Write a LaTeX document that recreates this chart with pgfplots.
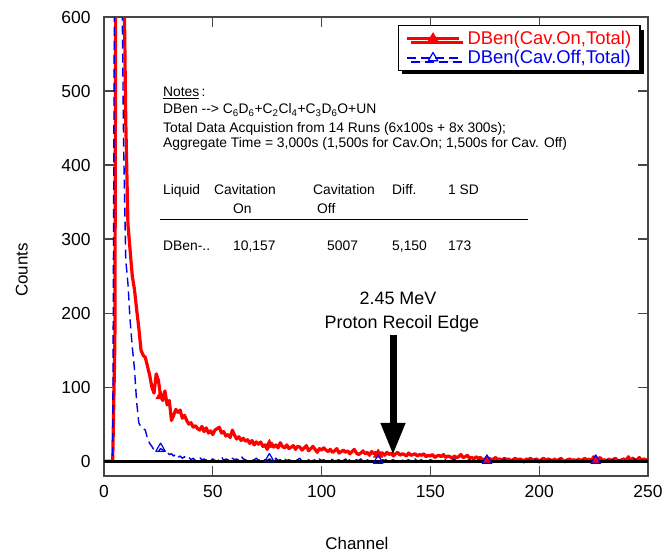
\documentclass[border=0pt]{standalone}
\usepackage{pgfplots}
\pgfplotsset{compat=1.18}
\usepackage{pgfplotstable}
\usepackage{fontspec}
\setmainfont{Liberation Sans}
\usetikzlibrary{arrows.meta,shadows}
\definecolor{framegray}{RGB}{70,70,70}
\definecolor{onred}{RGB}{255,0,0}
\definecolor{offblue}{RGB}{0,0,235}

\pgfplotstableread[row sep=\\]{
ch on off\\
0 0 0\\ 1 0 0\\ 2 0 0\\ 3 0 0\\ 4 0 0\\ 5 160 800\\ 6 1400 1300\\ 7 1600 1100\\ 8 1100 720\\ 9 700 430\\
10 460 272\\ 11 320 240\\ 12 285 190\\ 13 250 154\\ 14 232 125\\ 15 205 80\\ 16 180 52\\ 17 150 46\\ 18 143 44\\ 19 140 42\\
20 128 30\\ 21 116 24\\ 22 100 20\\ 23 92 15\\ 24 118 14\\ 25 109 13\\ 26 88 17\\ 27 82 15\\ 28 95 11\\ 29 76 12\\
30 82 9\\ 31 55 10\\ 32 62 7\\ 33 70 9\\ 34 66 5\\ 35 69 7\\ 36 58 4\\ 37 62 6\\ 38 55 3\\ 39 50 5\\
40 52 2\\ 41 46 4\\ 42 48 1\\ 43 44 3\\ 44 42 5\\ 45 47 2\\ 46 40 3\\ 47 45 1\\ 48 38 4\\ 49 41 2\\
50 36 3\\ 51 42 1\\ 52 44 0\\ 53 46 2\\ 54 38 6\\ 55 40 1\\ 56 34 3\\ 57 36 2\\ 58 32 0\\ 59 42 4\\
60 35 2\\ 61 30 3\\ 62 33 1\\ 63 28 7\\ 64 31 3\\ 65 27 2\\ 66 29 0\\ 67 24 3\\ 68 28 1\\ 69 22 2\\
70 26 4\\ 71 23 1\\ 72 26 3\\ 73 20 0\\ 74 22 2\\ 75 16 1\\ 76 22 3\\ 77 24 2\\ 78 19 0\\ 79 22 4\\
80 18 1\\ 81 25 2\\ 82 20 -1\\ 83 18 3\\ 84 22 1\\ 85 17 2\\ 86 19 0\\ 87 21 3\\ 88 16 1\\ 89 20 2\\
90 19 4\\ 91 15 0\\ 92 18 1\\ 93 21 3\\ 94 14 2\\ 95 17 -1\\ 96 20 1\\ 97 16 2\\ 98 12 0\\ 99 17 3\\
100 15 1\\ 101 18 2\\ 102 15 0\\ 103 13 1\\ 104 16 3\\ 105 12 2\\ 106 14 0\\ 107 17 1\\ 108 11 2\\ 109 13 -1\\
110 15 1\\ 111 12 3\\ 112 14 0\\ 113 10 2\\ 114 13 1\\ 115 16 0\\ 116 11 2\\ 117 9 1\\ 118 11 3\\ 119 14 0\\
120 10 1\\ 121 12 2\\ 122 8 0\\ 123 13 1\\ 124 10 -1\\ 125 12 2\\ 126 9 1\\ 127 11 0\\ 128 11 2\\ 129 8 1\\
130 12 3\\ 131 9 0\\ 132 11 1\\ 133 7 2\\ 134 10 0\\ 135 12 1\\ 136 8 -1\\ 137 10 2\\ 138 9 0\\ 139 7 1\\
140 11 2\\ 141 8 0\\ 142 9 1\\ 143 10 3\\ 144 7 0\\ 145 9 1\\ 146 8 2\\ 147 10 -1\\ 148 6 1\\ 149 8 0\\
150 7 2\\ 151 9 1\\ 152 5 0\\ 153 7 2\\ 154 8 -1\\ 155 6 1\\ 156 9 0\\ 157 5 2\\ 158 7 1\\ 159 6 0\\
160 4 1\\ 161 7 3\\ 162 5 0\\ 163 6 1\\ 164 9 2\\ 165 5 0\\ 166 6 -1\\ 167 8 1\\ 168 4 2\\ 169 5 0\\
170 3 1\\ 171 6 0\\ 172 4 2\\ 173 5 1\\ 174 2 -1\\ 175 3 0\\ 176 1 1\\ 177 4 2\\ 178 2 0\\ 179 3 1\\
180 5 -1\\ 181 2 2\\ 182 3 0\\ 183 1 1\\ 184 4 3\\ 185 2 0\\ 186 3 1\\ 187 0 -1\\ 188 2 2\\ 189 4 0\\
190 1 1\\ 191 3 2\\ 192 2 0\\ 193 -1 1\\ 194 3 -1\\ 195 2 2\\ 196 4 0\\ 197 1 1\\ 198 2 3\\ 199 3 0\\
200 -1 1\\ 201 2 2\\ 202 4 -1\\ 203 1 1\\ 204 3 0\\ 205 2 2\\ 206 0 1\\ 207 3 0\\ 208 1 -1\\ 209 2 2\\
210 4 1\\ 211 1 0\\ 212 -1 1\\ 213 2 3\\ 214 3 0\\ 215 1 1\\ 216 2 -1\\ 217 0 2\\ 218 3 0\\ 219 1 1\\
220 2 2\\ 221 4 0\\ 222 1 1\\ 223 3 -1\\ 224 0 2\\ 225 6 0\\ 226 1 1\\ 227 3 2\\ 228 5 0\\ 229 1 1\\
230 2 -1\\ 231 0 2\\ 232 3 0\\ 233 1 1\\ 234 2 3\\ 235 4 0\\ 236 1 1\\ 237 0 2\\ 238 2 -1\\ 239 3 1\\
240 1 0\\ 241 6 2\\ 242 0 1\\ 243 4 0\\ 244 1 3\\ 245 2 1\\ 246 5 0\\ 247 1 2\\ 248 3 1\\ 249 2 0\\
250 1 2\\
}\spectrum

\begin{document}
\begin{tikzpicture}
\useasboundingbox (-104bp,-78bp) rectangle (560bp,476bp);
\begin{axis}[
  at={(0,0)}, anchor=south west,
  scale only axis, width=544bp, height=459bp,
  xmin=0, xmax=250, ymin=-20, ymax=600,
  xtick={0,50,...,250}, ytick={0,100,...,600},
  tick align=inside, major tick length=10bp,
  axis line style={framegray, line width=1.6bp},
  every tick/.style={framegray, line width=1.2bp},
  /pgf/number format/assume math mode=true,
  ticklabel style={font=\fontsize{17.5}{20}\selectfont, text=black},
  yticklabel style={xshift=-10bp},
  xticklabel style={yshift=-6bp},
  xlabel={Channel}, ylabel={Counts},
  xlabel style={font=\fontsize{17}{20}\selectfont, at={(axis description cs:0.465,-0.146)}, anchor=center},
  ylabel style={font=\fontsize{17}{20}\selectfont, at={(axis description cs:-0.151,0.449)}, anchor=center},
  clip=true,
  legend image code/.code={\draw[mark repeat=2,mark phase=2] plot coordinates {(0bp,0bp) (26bp,0bp) (52bp,0bp)};},
  legend style={at={(axis description cs:0.987,0.9826)}, anchor=north east,
    draw=black, line width=1.5bp, fill=white,
    drop shadow={shadow xshift=4bp, shadow yshift=-4bp, opacity=1, fill=black},
    font=\fontsize{18.5}{21}\selectfont, inner xsep=7bp, inner ysep=3bp, row sep=1bp},
  legend cell align=left,
]
\addplot[onred, line width=3.2bp, line join=round, mark=triangle*, mark size=5.5bp, mark repeat=50, mark phase=23,
  mark options={solid, fill=onred, draw=onred, line width=0.6bp}] table[x=ch,y=on]{\spectrum};
\addlegendentry{\hspace{5bp}\textcolor{onred}{DBen(Cav.On,Total)}}
\addplot[offblue, line width=1.4bp, line join=round, dash pattern=on 9bp off 5bp, mark=triangle, mark size=5.5bp, mark repeat=50, mark phase=23,
  mark options={solid, line width=1.2bp, fill=none}] table[x=ch,y=off]{\spectrum};
\addlegendentry{\hspace{5bp}\textcolor{offblue}{DBen(Cav.Off,Total)}}
\draw[black, line width=3bp] (axis cs:0,0) -- (axis cs:250,0);
\end{axis}

% notes block
\begin{scope}[every node/.style={inner sep=0pt, font=\fontsize{13.9}{16}\selectfont}]
\node[anchor=base west] at (59bp,379bp) {\underline{Notes}\,:};
\node[anchor=base west] at (59bp,362bp) {DBen -{}-{}> C\textsubscript{6}D\textsubscript{6}+C\textsubscript{2}Cl\textsubscript{4}+C\textsubscript{3}D\textsubscript{6}O+UN};
\node[anchor=base west] at (59bp,343bp) {Total Data Acquistion from 14 Runs (6x100s + 8x 300s);};
\node[anchor=base west] at (59bp,328bp) {Aggregate Time = 3,000s (1,500s for Cav.On; 1,500s for Cav. Off)};
\node[anchor=base west] at (59bp,281bp) {Liquid};
\node[anchor=base west] at (110bp,281bp) {Cavitation};
\node[anchor=base west] at (209bp,281bp) {Cavitation};
\node[anchor=base west] at (288bp,281bp) {Diff.};
\node[anchor=base west] at (344bp,281bp) {1 SD};
\node[anchor=base west] at (129bp,262bp) {On};
\node[anchor=base west] at (213bp,262bp) {Off};
\draw[black, line width=1bp] (56bp,256bp) -- (424bp,256bp);
\node[anchor=base west] at (59bp,225bp) {DBen-..};
\node[anchor=base west] at (129bp,225bp) {10,157};
\node[anchor=base west] at (223bp,225bp) {5007};
\node[anchor=base west] at (288bp,225bp) {5,150};
\node[anchor=base west] at (344bp,225bp) {173};
\end{scope}

\node[anchor=base, inner sep=0pt, font=\fontsize{18}{21}\selectfont] at (294bp,171bp) {2.45 MeV};
\node[anchor=base, inner sep=0pt, font=\fontsize{18}{21}\selectfont] at (298bp,147bp) {Proton Recoil Edge};
\draw[black, line width=7bp, -{Triangle[width=23bp,length=32bp]}] (289bp,141bp) -- (289bp,21bp);
\end{tikzpicture}
\end{document}
